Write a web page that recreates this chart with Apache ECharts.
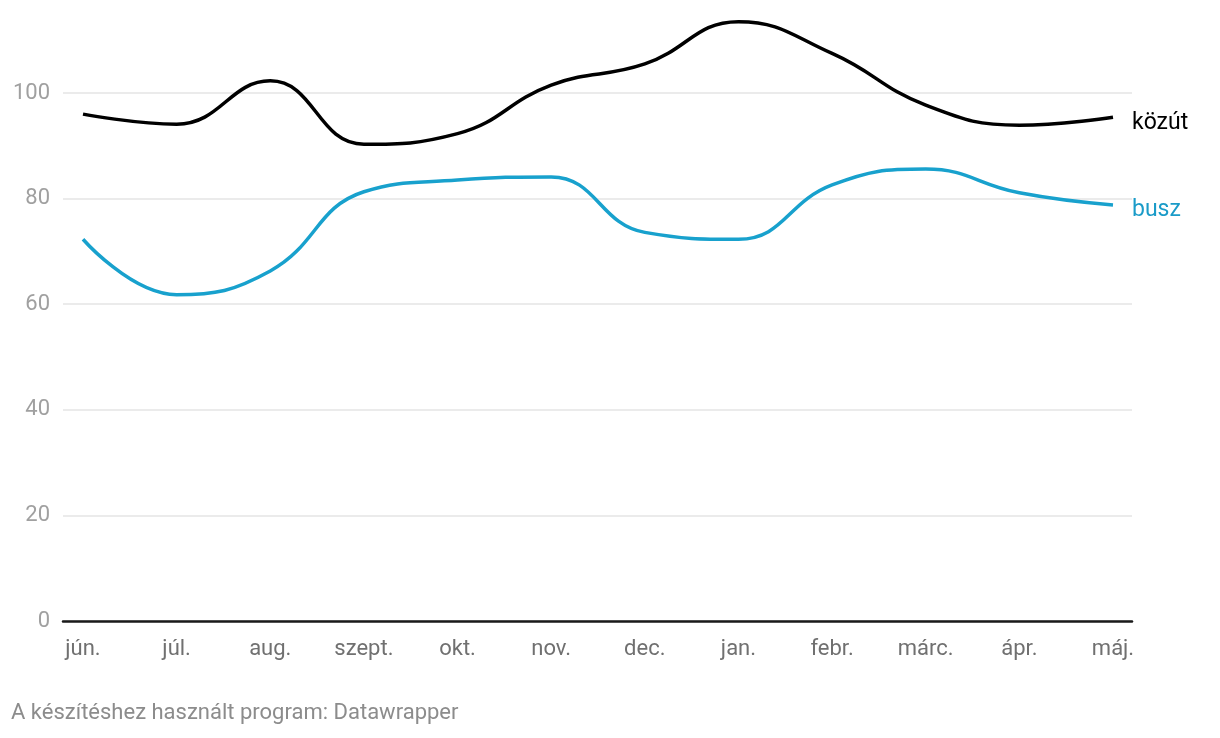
<!DOCTYPE html>
<html>
<head>
<meta charset="utf-8">
<script src="https://cdn.jsdelivr.net/npm/echarts@6/dist/echarts.min.js"></script>
<style>
html,body{margin:0;padding:0;background:#fff;}
#chart{width:1220px;height:738px;}
</style>
</head>
<body>
<div id="chart"></div>
<script>
const categories = ['jún.','júl.','aug.','szept.','okt.','nov.','dec.','jan.','febr.','márc.','ápr.','máj.'];
const kozut = [96.0, 94.1, 102.3, 90.3, 92.3, 101.5, 105.5, 113.5, 107.5, 97.7, 93.9, 95.4];
const busz = [72.3, 61.8, 66.3, 81.3, 83.5, 84.1, 73.6, 72.3, 82.6, 85.6, 81.1, 78.8];
const yTicks = [0, 20, 40, 60, 80, 100];
const footer = 'A készítéshez használt program: Datawrapper';

const chart = echarts.init(document.getElementById('chart'));
const FONT = 'Roboto';
const yMin = 0, yMax = 115;
const gridTop = 621 - yMax * 5.28;
const gridBottom = 738 - 621;
const gridColors = yTicks.map(() => '#e5e5e5').concat(['rgba(0,0,0,0)']);

chart.setOption({
  animation: false,
  textStyle: {fontFamily: FONT},
  graphic: [{
    type: 'text', left: 11, top: 702,
    style: {text: footer, fontFamily: FONT, fontSize: 22, fill: '#8c8c8c'}
  }],
  grid: [
    {left: 63, right: 88, top: gridTop, bottom: gridBottom},
    {left: 83, right: 107, top: gridTop, bottom: gridBottom}
  ],
  xAxis: [
    {type: 'category', gridIndex: 0, data: categories, boundaryGap: false,
     axisLine: {show: true, lineStyle: {color: '#1a1a1a', width: 2.5}},
     axisTick: {show: false}, axisLabel: {show: false}, splitLine: {show: false}},
    {type: 'category', gridIndex: 1, data: categories, boundaryGap: false,
     axisLine: {show: false}, axisTick: {show: false}, splitLine: {show: false},
     axisLabel: {show: true, interval: 0, margin: 17, color: '#707070', fontSize: 22, fontFamily: FONT}}
  ],
  yAxis: [
    {type: 'value', gridIndex: 0, min: yMin, max: yMax, interval: 20,
     axisLine: {show: false}, axisTick: {show: false},
     axisLabel: {margin: 13, color: '#a0a0a0', fontSize: 22, fontFamily: FONT,
       formatter: v => yTicks.indexOf(v) >= 0 ? String(v) : ''},
     splitLine: {show: true, lineStyle: {color: gridColors, width: 1.5}}},
    {type: 'value', gridIndex: 1, min: yMin, max: yMax, interval: 20, show: false}
  ],
  series: [
    {name: 'közút', type: 'line', xAxisIndex: 1, yAxisIndex: 1, data: kozut,
     smooth: 0.45, showSymbol: false, lineStyle: {color: '#000', width: 3.5},
     itemStyle: {color: '#000'},
     endLabel: {show: true, formatter: '{a}', distance: 19, offset: [0, 6],
       color: '#000', fontSize: 23, fontFamily: FONT}},
    {name: 'busz', type: 'line', xAxisIndex: 1, yAxisIndex: 1, data: busz,
     smooth: 0.45, showSymbol: false, lineStyle: {color: '#18a1cd', width: 3.5},
     itemStyle: {color: '#18a1cd'},
     endLabel: {show: true, formatter: '{a}', distance: 19, offset: [0, 5],
       color: '#1a9bc8', fontSize: 23, fontFamily: FONT}}
  ]
});
</script>
</body>
</html>
